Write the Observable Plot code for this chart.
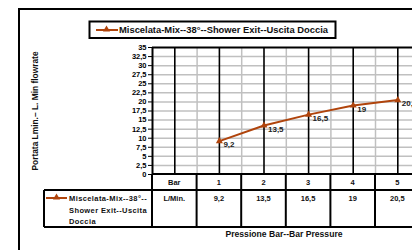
<!DOCTYPE html>
<html><head><meta charset="utf-8">
<script src="https://cdn.jsdelivr.net/npm/d3@7"></script>
<script src="https://cdn.jsdelivr.net/npm/@observablehq/plot@0.6"></script>
<style>body{margin:0;background:#fff}#c{width:412px;height:250px;overflow:hidden}</style>
</head><body><div id="c"></div>
<script>
const seriesName = "Miscelata-Mix--38°--Shower Exit--Uscita Doccia";
const legendLines = ["Miscelata-Mix--38°--", "Shower Exit--Uscita", "Doccia"];
const headerLabel = "Bar";
const rowLabel = "L/Min.";
const pressures = ["1", "2", "3", "4", "5"];
const flows = [9.2, 13.5, 16.5, 19, 20.5];
const yTicks = [0, 2.5, 5, 7.5, 10, 12.5, 15, 17.5, 20, 22.5, 25, 27.5, 30, 32.5, 35];
const yTitle = "Portata Lmin.– L. Min flowrate";
const xTitle = "Pressione Bar--Bar Pressure";

const color = "#b0440c";
const fmt = v => String(v).replace(".", ",");
const cols = [headerLabel, ...pressures];
const data = pressures.map((p, i) => ({i: i + 1, p, v: flows[i]}));
const font = "Liberation Sans, Arial, sans-serif";

const chart = Plot.plot({
  width: 412, height: 250,
  marginLeft: 152, marginTop: 47, marginBottom: 76, marginRight: 0,
  style: {fontFamily: font, fontSize: "7.5px", fontWeight: "bold", color: "#000", background: "#fff"},
  x: {type: "linear", domain: [-0.5, cols.length - 0.5], range: [152, 152 + cols.length * 44.6], axis: null},
  y: {domain: [0, 35], range: [174, 47], axis: null},
  marks: [
    Plot.ruleY(yTicks.filter(t => t > 0 && t < 35), {x1: -0.5, x2: cols.length - 0.5, stroke: "#c0c0c0", strokeWidth: 1.5}),
    Plot.ruleX(d3.range(cols.length).map(i => i + 0.5), {y1: 0, y2: 35, stroke: "#c0c0c0", strokeWidth: 1.5}),
    Plot.ruleX(d3.range(cols.length), {y1: 0, y2: 35, stroke: "#000", strokeWidth: 1.6}),
    Plot.ruleY([35], {x1: -0.5, x2: cols.length - 0.5, stroke: "#000", strokeWidth: 2}),
    Plot.ruleX([-0.5], {y1: 0, y2: 35, stroke: "#000", strokeWidth: 2}),
    Plot.axisY({ticks: yTicks, tickFormat: fmt, tickSize: 4, tickPadding: 2, anchor: "left", label: null, fontWeight: "bold", fontSize: 7.5}),
    Plot.line(data, {x: "i", y: "v", stroke: color, strokeWidth: 2}),
    Plot.dot(data, {x: "i", y: "v", symbol: "triangle", fill: color, r: 2.6}),
    Plot.text(data, {x: "i", y: "v", text: d => fmt(d.v), dx: 4, dy: 3.5, textAnchor: "start", fontSize: 8, fontWeight: "bold", fill: "#222"})
  ]
});
document.getElementById("c").appendChild(chart);

const svg = d3.select(chart);
const xs = chart.scale("x");
const X = v => xs.apply(v);
const g = svg.append("g").attr("font-family", font).attr("font-weight", "bold").attr("text-anchor", "start").attr("fill", "#111");

// outer frame
g.append("path").attr("d", "M19,252V9H414").attr("fill", "none").attr("stroke", "#000").attr("stroke-width", 2);

// table
const r0 = 174, r1 = 190, r2 = 227, leftCell = 44;
const tl = g.append("g").attr("stroke", "#000").attr("stroke-width", 2).attr("fill", "none");
tl.append("line").attr("x1", X(-0.5)).attr("x2", X(cols.length - 0.5) + 2).attr("y1", r0).attr("y2", r0);
tl.append("line").attr("x1", leftCell).attr("x2", X(cols.length - 0.5) + 2).attr("y1", r1).attr("y2", r1);
tl.append("line").attr("x1", leftCell).attr("x2", X(cols.length - 0.5) + 2).attr("y1", r2).attr("y2", r2);
tl.append("line").attr("x1", leftCell).attr("x2", leftCell).attr("y1", r1).attr("y2", r2);
d3.range(cols.length + 1).forEach(i => {
  tl.append("line").attr("x1", X(i - 0.5)).attr("x2", X(i - 0.5)).attr("y1", r0).attr("y2", r2);
});
cols.forEach((c, i) => {
  g.append("text").attr("x", X(i)).attr("y", 185).attr("text-anchor", "middle").attr("font-size", 7.5).text(c);
  g.append("text").attr("x", X(i)).attr("y", 201).attr("text-anchor", "middle").attr("font-size", 7.5)
    .text(i === 0 ? rowLabel : fmt(flows[i - 1]));
});
// legend in table
g.append("line").attr("x1", 46).attr("x2", 67).attr("y1", 198).attr("y2", 198).attr("stroke", color).attr("stroke-width", 2);
g.append("path").attr("d", d3.symbol(d3.symbolTriangle, 22)()).attr("transform", "translate(56.5,197.5)").attr("fill", color);
legendLines.forEach((t, k) => {
  g.append("text").attr("x", 69).attr("y", 201 + k * 11.5).attr("text-anchor", "start").attr("font-size", 7.5).attr("letter-spacing", 0.4).text(t);
});

// top legend
g.append("rect").attr("x", 89.5).attr("y", 21.5).attr("width", 246).attr("height", 16.5).attr("fill", "#fff").attr("stroke", "#000").attr("stroke-width", 2);
g.append("line").attr("x1", 96).attr("x2", 118).attr("y1", 30).attr("y2", 30).attr("stroke", color).attr("stroke-width", 2);
g.append("path").attr("d", d3.symbol(d3.symbolTriangle, 22)()).attr("transform", "translate(106.5,29.5)").attr("fill", color);
g.append("text").attr("x", 119).attr("y", 33.2).attr("text-anchor", "start").attr("font-size", 9.4).text(seriesName);

// axis titles
g.append("text").attr("transform", "translate(38,111) rotate(-90)").attr("text-anchor", "middle").attr("font-size", 8.4).text(yTitle);
g.append("text").attr("x", 284).attr("y", 237).attr("text-anchor", "middle").attr("font-size", 8.6).text(xTitle);
</script></body></html>
